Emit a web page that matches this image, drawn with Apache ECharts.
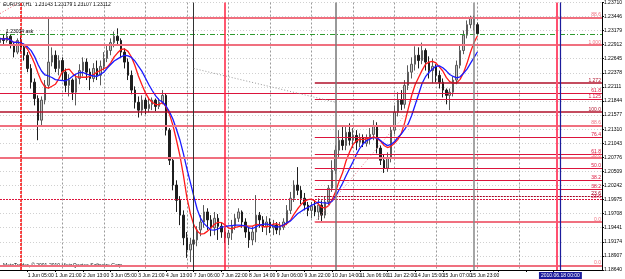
<!DOCTYPE html>
<html>
<head>
<meta charset="utf-8">
<script src="https://cdn.jsdelivr.net/npm/echarts@6/dist/echarts.min.js"></script>
<style>
  html, body { margin: 0; padding: 0; background: #fff; }
  #chart { width: 625px; height: 279px; }
</style>
</head>
<body>
<div id="chart"></div>
<script>
// time labels, one every 8 bars (2h bars)
const timeLabels = ['31 May 2010', '1 Jun 05:00', '1 Jun 21:00', '2 Jun 13:00', '3 Jun 05:00', '3 Jun 21:00',
  '4 Jun 13:00', '7 Jun 06:00', '7 Jun 22:00', '8 Jun 14:00', '9 Jun 06:00', '9 Jun 22:00',
  '10 Jun 14:00', '11 Jun 06:00', '11 Jun 22:00', '14 Jun 15:00', '15 Jun 07:00', '15 Jun 23:00'];
const priceTicks = [1.18640, 1.18907, 1.19174, 1.19441, 1.19708, 1.19975, 1.20242, 1.20509, 1.20776, 1.21043,
  1.21310, 1.21577, 1.21844, 1.22111, 1.22378, 1.22645, 1.22912, 1.23179, 1.23446, 1.23710];

const openPx = [1.2295,1.2303,1.2299,1.2307,1.2290,1.2277,1.2299,1.2286,1.2271,1.2246,
  1.2220,1.2189,1.2148,1.2186,1.2214,1.2258,1.2271,1.2246,1.2261,1.2239,
  1.2214,1.2224,1.2201,1.2227,1.2242,1.2258,1.2239,1.2227,1.2246,1.2233,
  1.2250,1.2265,1.2280,1.2295,1.2307,1.2299,1.2277,1.2258,1.2233,1.2205,
  1.2182,1.2167,1.2186,1.2170,1.2178,1.2186,1.2174,1.2182,1.2195,1.2129,
  1.2072,1.2025,1.1996,1.1968,1.1925,1.1902,1.1913,1.1921,1.1940,1.1955,
  1.1974,1.1959,1.1944,1.1962,1.1947,1.1936,1.1925,1.1934,1.1947,1.1962,
  1.1974,1.1955,1.1936,1.1921,1.1936,1.1968,1.1959,1.1947,1.1955,1.1944,
  1.1949,1.1940,1.1945,1.1955,1.1977,1.2000,1.2025,1.2015,1.2000,1.1987,
  1.1977,1.1985,1.1974,1.1987,1.1968,1.1993,1.2019,1.2053,1.2091,1.2110,
  1.2100,1.2125,1.2110,1.2119,1.2106,1.2114,1.2104,1.2114,1.2121,1.2138,
  1.2095,1.2072,1.2057,1.2076,1.2129,1.2163,1.2186,1.2178,1.2214,1.2239,
  1.2254,1.2271,1.2261,1.2280,1.2258,1.2242,1.2250,1.2233,1.2220,1.2205,
  1.2195,1.2201,1.2224,1.2252,1.2280,1.2309,1.2329,1.2341,1.2329];
const closePx = [1.2303,1.2299,1.2307,1.2290,1.2277,1.2299,1.2286,1.2271,1.2246,1.2220,
  1.2189,1.2148,1.2186,1.2214,1.2258,1.2271,1.2246,1.2261,1.2239,1.2214,
  1.2224,1.2201,1.2227,1.2242,1.2258,1.2239,1.2227,1.2246,1.2233,1.2250,
  1.2265,1.2280,1.2295,1.2307,1.2299,1.2277,1.2258,1.2233,1.2205,1.2182,
  1.2167,1.2186,1.2170,1.2178,1.2186,1.2174,1.2182,1.2195,1.2129,1.2072,
  1.2025,1.1996,1.1968,1.1925,1.1902,1.1913,1.1921,1.1940,1.1955,1.1974,
  1.1959,1.1944,1.1962,1.1947,1.1936,1.1925,1.1934,1.1947,1.1962,1.1974,
  1.1955,1.1936,1.1921,1.1936,1.1968,1.1959,1.1947,1.1955,1.1944,1.1949,
  1.1940,1.1945,1.1955,1.1977,1.2000,1.2025,1.2015,1.2000,1.1987,1.1977,
  1.1985,1.1974,1.1987,1.1968,1.1993,1.2019,1.2053,1.2091,1.2110,1.2100,
  1.2125,1.2110,1.2119,1.2106,1.2114,1.2104,1.2114,1.2121,1.2138,1.2095,
  1.2072,1.2057,1.2076,1.2129,1.2163,1.2186,1.2178,1.2214,1.2239,1.2254,
  1.2271,1.2261,1.2280,1.2258,1.2242,1.2250,1.2233,1.2220,1.2205,1.2195,
  1.2201,1.2224,1.2252,1.2280,1.2309,1.2329,1.2341,1.2329,1.2312];
const lowPx = [1.2290,1.2292,1.2295,1.2284,1.2267,1.2273,1.2277,1.2261,1.2239,1.2208,
  1.2176,1.2110,1.2136,1.2178,1.2208,1.2250,1.2239,1.2233,1.2224,1.2201,
  1.2193,1.2186,1.2176,1.2216,1.2231,1.2224,1.2205,1.2220,1.2224,1.2214,
  1.2242,1.2258,1.2271,1.2286,1.2292,1.2267,1.2246,1.2224,1.2197,1.2170,
  1.2153,1.2157,1.2159,1.2163,1.2167,1.2165,1.2169,1.2178,1.2119,1.2063,
  1.2015,1.1974,1.1949,1.1911,1.1887,1.1879,1.1898,1.1909,1.1928,1.1944,
  1.1940,1.1928,1.1930,1.1921,1.1925,1.1915,1.1911,1.1921,1.1940,1.1955,
  1.1944,1.1925,1.1906,1.1911,1.1917,1.1944,1.1936,1.1930,1.1934,1.1930,
  1.1932,1.1930,1.1940,1.1949,1.1970,1.1993,1.2006,1.1989,1.1977,1.1966,
  1.1962,1.1966,1.1959,1.1955,1.1962,1.1985,1.2012,1.2046,1.2078,1.2091,
  1.2091,1.2100,1.2095,1.2091,1.2097,1.2097,1.2098,1.2102,1.2110,1.2085,
  1.2063,1.2048,1.2050,1.2068,1.2121,1.2155,1.2167,1.2170,1.2205,1.2227,
  1.2242,1.2246,1.2254,1.2242,1.2227,1.2218,1.2220,1.2208,1.2191,1.2178,
  1.2167,1.2193,1.2216,1.2246,1.2273,1.2303,1.2322,1.2318,1.2309];
const highPx = [1.2318,1.2310,1.2316,1.2310,1.2295,1.2303,1.2307,1.2293,1.2277,1.2254,
  1.2227,1.2195,1.2193,1.2224,1.2343,1.2286,1.2280,1.2271,1.2267,1.2246,
  1.2235,1.2227,1.2235,1.2254,1.2267,1.2265,1.2246,1.2256,1.2261,1.2261,
  1.2277,1.2290,1.2303,1.2316,1.2322,1.2303,1.2284,1.2265,1.2242,1.2212,
  1.2193,1.2195,1.2191,1.2189,1.2191,1.2189,1.2189,1.2205,1.2199,1.2133,
  1.2078,1.2034,1.2004,1.1977,1.1936,1.1925,1.1930,1.1947,1.1968,1.1987,
  1.1981,1.1968,1.1974,1.1970,1.1955,1.1944,1.1940,1.1959,1.1970,1.1981,
  1.1977,1.1962,1.1944,1.1947,1.2006,1.1974,1.1966,1.1966,1.1962,1.1959,
  1.1955,1.1955,1.1962,1.1987,1.2012,1.2034,1.2059,1.2023,1.2010,1.1993,
  1.1993,1.1996,1.2000,1.1996,1.2004,1.2025,1.2072,1.2100,1.2129,1.2135,
  1.2138,1.2142,1.2133,1.2129,1.2123,1.2121,1.2121,1.2133,1.2148,1.2144,
  1.2100,1.2082,1.2087,1.2136,1.2176,1.2201,1.2205,1.2224,1.2252,1.2267,
  1.2288,1.2286,1.2295,1.2284,1.2269,1.2265,1.2254,1.2242,1.2227,1.2208,
  1.2208,1.2231,1.2261,1.2290,1.2318,1.2337,1.2346,1.2346,1.2333];

// horizontal levels drawn across the whole chart
const fullLevels = [1.2343, 1.2290, 1.2199, 1.2163, 1.2138, 1.2076, 1.1998, 1.1873];
const fullLevelNames = ['88.6', '1.000', '61.8', '100.0', '88.6', '50.0', '23.6', '0.0'];
// levels that start at bar 91
const partLevels = [1.2218, 1.2188, 1.2116, 1.2083, 1.2057, 1.2034, 1.2017, 1.2004, 1.1955];
const partLevelNames = ['1.272', '1.125', '76.4', '61.8', '50.0', '38.2', '38.2', '23.6', '0.0'];
const partStart = 91;
const bidPrice = 1.23112;
const taggedPrices = [1.22903, 1.21630];
// vertical lines (bar index)
const vLines = [6, 56, 65, 97, 137, 161, 162];
// dotted trend lines [bar, price, bar, price]
const trendLines = [[56, 1.2246, 97, 1.2182], [91, 1.1955, 117, 1.2157], [0, 1.2350, 5, 1.2369]];

const NBARS = 175;

const PINK = { color: '#f0707f', width: 2, type: 'solid' };
const RED = { color: '#dc143c', width: 1, type: 'solid' };
const DARK = { color: '#b0102a', width: 1.5, type: 'solid' };
const DOT = { color: '#dc143c', width: 1.2, type: [2, 1] };
const fullStyles = [PINK, PINK, RED, DARK, PINK, PINK, DOT, PINK];
const partStyles = [DARK, RED, RED, RED, RED, RED, RED, { color: '#a00020', width: 1, type: [2, 1] }, PINK];
const vStyles = [
  { color: '#ff1010', width: 1.5, type: [3, 1] },
  { color: '#333', width: 1, type: 'solid' },
  { color: '#ff2040', width: 1.5, type: 'solid' },
  { color: '#777', width: 1.5, type: 'solid' },
  { color: '#888', width: 1.5, type: 'solid' },
  { color: '#ff5070', width: 2, type: 'solid' },
  { color: '#1c1c9c', width: 1.2, type: 'solid' }
];
const trendStyles = [
  { color: '#999', width: 1, type: [1, 2] },
  { color: '#f08090', width: 1, type: [1, 2] },
  { color: '#f06070', width: 1, type: [1, 2] }
];

function sma(arr, n) {
  return arr.map((v, i) => {
    const s = Math.max(0, i - n + 1);
    let t = 0;
    for (let j = s; j <= i; j++) t += arr[j];
    return +(t / (i - s + 1)).toFixed(5);
  });
}

const cats = [];
for (let i = 0; i < NBARS; i++) cats.push(String(i));
const candles = openPx.map((o, i) => [o, closePx[i], lowPx[i], highPx[i]]);
const maFast = sma(closePx, 7);
const maSlow = sma(closePx, 10);

const smallLabel = (text, color) => ({
  show: true, position: 'insideEndTop', formatter: text, color: color,
  fontSize: 5, distance: [1, 0], fontFamily: 'Liberation Sans'
});

const markData = [];
fullLevels.forEach((p, i) => {
  markData.push({ yAxis: p, lineStyle: fullStyles[i], label: smallLabel(fullLevelNames[i], fullStyles[i].color) });
});
partLevels.forEach((p, i) => {
  markData.push([
    { coord: [partStart, p], lineStyle: partStyles[i], label: smallLabel(partLevelNames[i], partStyles[i].color) },
    { coord: [NBARS - 1, p] }
  ]);
});
// bid line (green dash-dot) with its text
markData.push({
  yAxis: bidPrice,
  lineStyle: { color: '#2e9b2e', width: 1, type: [5, 2, 1, 2] },
  label: { show: true, position: 'insideStartTop', formatter: '1.23034 ask', color: '#000', fontSize: 5, distance: [6, 0] }
});
// price tags on the axis
markData.push({
  yAxis: bidPrice, lineStyle: { opacity: 0 },
  label: { show: true, position: 'end', formatter: bidPrice.toFixed(5), color: '#fff', backgroundColor: '#000',
    fontSize: 5, padding: [1, 1, 0, 1], distance: 1 }
});
taggedPrices.forEach(p => {
  markData.push({
    yAxis: p, lineStyle: { opacity: 0 },
    label: { show: true, position: 'end', formatter: p.toFixed(5), color: '#fff', backgroundColor: '#c8102e',
      fontSize: 5, padding: [1, 1, 0, 1], distance: 1 }
  });
});
vLines.forEach((x, i) => {
  const item = { xAxis: x, lineStyle: vStyles[i], label: { show: false } };
  if (i === vLines.length - 1) {
    item.label = { show: true, position: 'start', formatter: '2010.06.18 00:00', color: '#fff',
      backgroundColor: '#1c1c9c', fontSize: 5, padding: [1, 2], distance: 2 };
  }
  markData.push(item);
});
trendLines.forEach((t, i) => {
  markData.push([{ coord: [t[0], t[1]], lineStyle: trendStyles[i], label: { show: false } }, { coord: [t[2], t[3]] }]);
});

const chart = echarts.init(document.getElementById('chart'));
chart.setOption({
  animation: false,
  backgroundColor: '#fff',
  textStyle: { fontFamily: 'Liberation Sans' },
  grid: { left: 0, right: 16, top: 2, bottom: 9 },
  xAxis: {
    type: 'category',
    data: cats,
    boundaryGap: false,
    axisLine: { lineStyle: { color: '#000', width: 1 } },
    axisTick: { show: true, interval: (i) => i % 8 === 0, length: 2, lineStyle: { color: '#000' } },
    axisLabel: {
      interval: (i) => i % 8 === 0,
      formatter: (v, i) => timeLabels[i / 8] || '',
      fontSize: 5, color: '#000', align: 'left', margin: 3, showMaxLabel: false
    },
    splitLine: { show: true, interval: (i) => i % 12 === 6, lineStyle: { color: '#9a9a9a', type: [2, 2], width: 1 } }
  },
  yAxis: {
    type: 'value',
    position: 'right',
    min: 1.1864,
    max: 1.2371,
    axisLine: { show: true, lineStyle: { color: '#000', width: 1 } },
    axisTick: { show: true, length: 2, customValues: priceTicks, lineStyle: { color: '#000' } },
    axisLabel: { customValues: priceTicks, formatter: (v) => v.toFixed(5), fontSize: 5, color: '#000', margin: 2 },
    splitLine: { show: true, lineStyle: { color: '#d0d0d0', type: [1, 2], width: 1 } }
  },
  series: [
    {
      name: 'EURUSD,H1',
      type: 'candlestick',
      data: candles,
      barWidth: 2,
      itemStyle: {
        color: '#c4c4c4', borderColor: '#5a5a5a',
        color0: '#1e1e1e', borderColor0: '#1e1e1e', borderWidth: 1
      },
      markLine: {
        silent: true, symbol: ['none', 'none'], animation: false, precision: 5,
        data: markData
      }
    },
    {
      name: 'MA fast', type: 'line', data: maFast, showSymbol: false, symbol: 'none',
      lineStyle: { color: '#ff1a1a', width: 1.3 }, z: 3
    },
    {
      name: 'MA slow', type: 'line', data: maSlow, showSymbol: false, symbol: 'none',
      lineStyle: { color: '#1a1aff', width: 1.3 }, z: 3
    }
  ],
  graphic: [
    { type: 'text', left: 3, top: 2, style: { text: 'EURUSD,H1  1.23143 1.23179 1.23107 1.23112', fontSize: 5, fill: '#000', fontFamily: 'Liberation Sans' } },
    { type: 'text', left: 3, top: 263, style: { text: 'MetaTrader, © 2001-2010 MetaQuotes Software Corp.', fontSize: 5, fill: '#000', fontFamily: 'Liberation Sans' } }
  ]
});
</script>
</body>
</html>
